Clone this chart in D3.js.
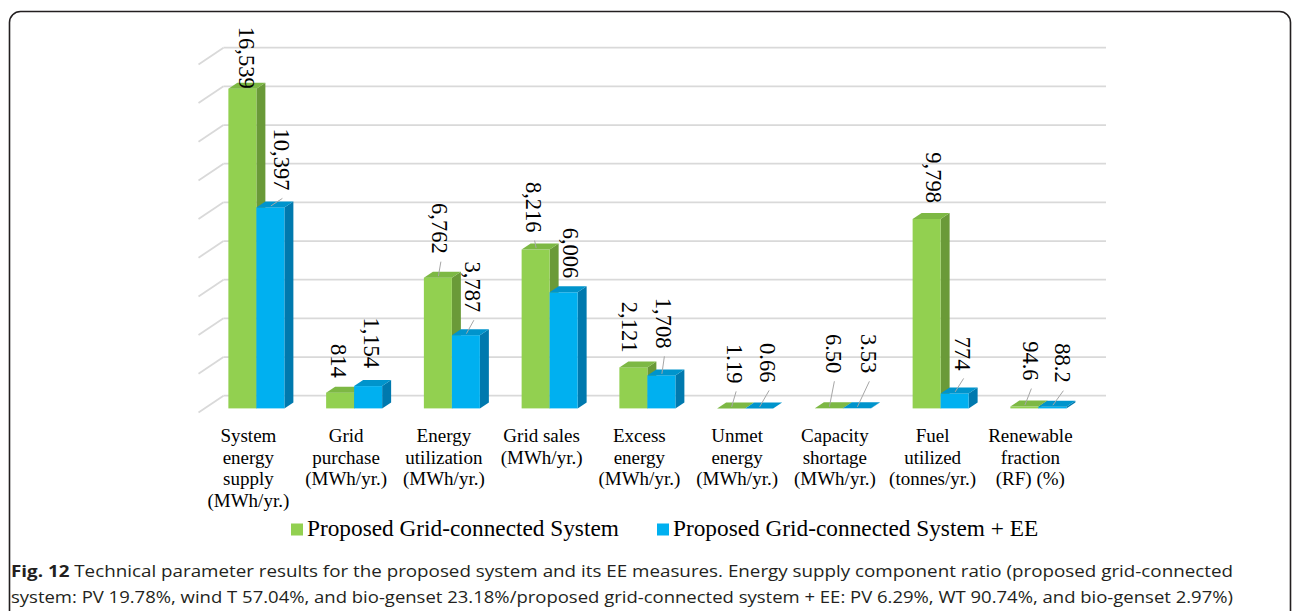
<!DOCTYPE html>
<html>
<head>
<meta charset="utf-8">
<script src="https://cdn.jsdelivr.net/npm/d3@7/dist/d3.min.js"></script>
<style>
  html, body { margin: 0; padding: 0; background: #fff; }
  svg { display: block; }
</style>
</head>
<body>
<svg id="chart" width="1292" height="611"></svg>
<script>
// ---- data ----
const categories = [
  ["System", "energy", "supply", "(MWh/yr.)"],
  ["Grid", "purchase", "(MWh/yr.)"],
  ["Energy", "utilization", "(MWh/yr.)"],
  ["Grid sales", "(MWh/yr.)"],
  ["Excess", "energy", "(MWh/yr.)"],
  ["Unmet", "energy", "(MWh/yr.)"],
  ["Capacity", "shortage", "(MWh/yr.)"],
  ["Fuel", "utilized", "(tonnes/yr.)"],
  ["Renewable", "fraction", "(RF) (%)"]
];
const seriesNames = ["Proposed Grid-connected System", "Proposed Grid-connected System + EE"];
const gridConnected = [16539, 814, 6762, 8216, 2121, 1.19, 6.50, 9798, 94.6];
const gridConnectedEE = [10397, 1154, 3787, 6006, 1708, 0.66, 3.53, 774, 88.2];
const labelDecimals = [0, 0, 0, 0, 0, 2, 2, 0, 1];
const yTicks = [0, 2000, 4000, 6000, 8000, 10000, 12000, 14000, 16000, 18000];
const captionLines = [
  ["Fig. 12", " Technical parameter results for the proposed system and its EE measures. Energy supply component ratio (proposed grid-connected"],
  ["", "system: PV 19.78%, wind T 57.04%, and bio-genset 23.18%/proposed grid-connected system + EE: PV 6.29%, WT 90.74%, and bio-genset 2.97%)"]
];

// ---- label placement (offset from bar centre, lift above bar top, leader line) ----
const labelLayout = [
  [[4, 0, false], [11, 17, true]],
  [[-1.5, 15, false], [3.5, 18, false]],
  [[2, 24, true], [7, 23, true]],
  [[-2, 17, true], [7, 14, false]],
  [[-3.5, 15, false], [2, 27, true]],
  [[4, 25, true], [9, 26, true]],
  [[4.5, 35, true], [11.5, 35, true]],
  [[7.5, 16, false], [8, 23, true]],
  [[6, 26, true], [10, 24, true]]
];

// ---- styling ----
const colors = [
  { front: "#92D050", side: "#6A9A38", top: "#7DB844" },
  { front: "#00B0F0", side: "#0079AE", top: "#0094CC" }
];
const serif = "'Liberation Serif', 'Times New Roman', serif";

const svg = d3.select("#chart");

// frame
svg.append("rect")
  .attr("x", 9.5).attr("y", 11.5)
  .attr("width", 1281).attr("height", 660)
  .attr("rx", 11).attr("ry", 11)
  .attr("fill", "none").attr("stroke", "#231f20").attr("stroke-width", 1.6);

// ---- scales ----
const x = d3.scaleBand()
  .domain(d3.range(categories.length))
  .range([199.5, 1079.25])
  .paddingInner(0).paddingOuter(0);
const y = d3.scaleLinear().domain([0, 18000]).range([408.4, 60.4]);

// 3D geometry
const wall = { dx: 25, dy: 16.7, back: 12.7, right: 1106 };
const depth = { dx: 9, dy: 6 };
const barW = 28;
const groupShift = 8;

// ---- back wall gridlines and side wall slants ----
const grid = svg.append("g").attr("class", "grid");
const wallLeft = x.range()[0] - 1 + wall.dx;
yTicks.forEach(t => {
  const yb = y(t) - wall.back;
  grid.append("line")
    .attr("x1", wallLeft).attr("x2", wall.right)
    .attr("y1", yb).attr("y2", yb)
    .attr("stroke", "#d9d9d9").attr("stroke-width", 1.8);
  grid.append("line")
    .attr("x1", wallLeft - wall.dx).attr("y1", yb + wall.dy)
    .attr("x2", wallLeft).attr("y2", yb)
    .attr("stroke", "#d9d9d9").attr("stroke-width", 1.8);
});

// ---- bars ----
const barsG = svg.append("g").attr("class", "bars");
const series = [gridConnected, gridConnectedEE];

function drawBar(g, x0, v, c) {
  const y0 = y(0), yt = y(v), x1 = x0 + barW;
  g.append("polygon")
    .attr("points", [[x1, yt], [x1 + depth.dx, yt - depth.dy], [x1 + depth.dx, y0 - depth.dy], [x1, y0]].join(" "))
    .attr("fill", c.side);
  g.append("rect")
    .attr("x", x0).attr("y", yt)
    .attr("width", barW).attr("height", Math.max(0, y0 - yt))
    .attr("fill", c.front);
  g.append("polygon")
    .attr("points", [[x0, yt], [x0 + depth.dx, yt - depth.dy], [x1 + depth.dx, yt - depth.dy], [x1, yt]].join(" "))
    .attr("fill", c.top);
}

categories.forEach((cat, i) => {
  const c = x(i) + x.bandwidth() / 2 + groupShift;
  series.forEach((vals, s) => {
    const x0 = c - barW + s * barW;
    drawBar(barsG, x0, vals[i], colors[s]);
  });
});

// ---- value labels ----
const labelsG = svg.append("g").attr("class", "value-labels");
categories.forEach((cat, i) => {
  const c = x(i) + x.bandwidth() / 2 + groupShift;
  series.forEach((vals, s) => {
    const v = vals[i];
    const [dxL, lift, leader] = labelLayout[i][s];
    const barCx = c - barW / 2 + s * barW;
    const top = y(v);
    const lx = barCx + dxL;
    const lb = top - lift;
    const text = d3.format("," + "." + labelDecimals[i] + "f")(v);
    if (leader) {
      labelsG.append("line")
        .attr("x1", barCx + 0.5).attr("y1", top - 1.5)
        .attr("x2", lx + 1).attr("y2", lb + 8)
        .attr("stroke", "#a6a6a6").attr("stroke-width", 1);
    }
    labelsG.append("text")
      .attr("transform", `translate(${lx},${lb}) rotate(90)`)
      .attr("text-anchor", "end")
      .attr("dy", "0.34em")
      .style("font-family", serif)
      .attr("font-size", 22.5)
      .attr("fill", "#000")
      .text(text);
  });
});

// ---- category labels ----
const catG = svg.append("g").attr("class", "categories");
categories.forEach((lines, i) => {
  const cx = x(i) + x.bandwidth() / 2;
  const t = catG.append("text")
    .attr("text-anchor", "middle")
    .style("font-family", serif)
    .attr("font-size", 19)
    .attr("fill", "#000");
  lines.forEach((ln, k) => {
    t.append("tspan").attr("x", cx).attr("y", 442 + k * 21.5).text(ln);
  });
});

// ---- legend ----
const legendG = svg.append("g").attr("class", "legend");
const legendX = [291, 657];
seriesNames.forEach((name, s) => {
  legendG.append("rect")
    .attr("x", legendX[s]).attr("y", 523.5)
    .attr("width", 12).attr("height", 12)
    .attr("fill", colors[s].front);
  legendG.append("text")
    .attr("x", legendX[s] + 16).attr("y", 536)
    .style("font-family", serif)
    .attr("font-size", 23.3)
    .attr("fill", "#000")
    .text(name);
});

// ---- caption ----
const capG = svg.append("g").attr("class", "caption");
captionLines.forEach((ln, k) => {
  const t = capG.append("text")
    .attr("x", 11).attr("y", 577 + k * 26)
    .style("font-family", "'Open Sans', 'Noto Sans', sans-serif")
    .attr("font-size", 16.5)
    .attr("fill", "#231f20")
    .attr("textLength", 1222)
    .attr("lengthAdjust", "spacingAndGlyphs");
  if (ln[0]) t.append("tspan").attr("font-weight", "bold").text(ln[0]);
  t.append("tspan").text(ln[1]);
});
</script>
</body>
</html>
